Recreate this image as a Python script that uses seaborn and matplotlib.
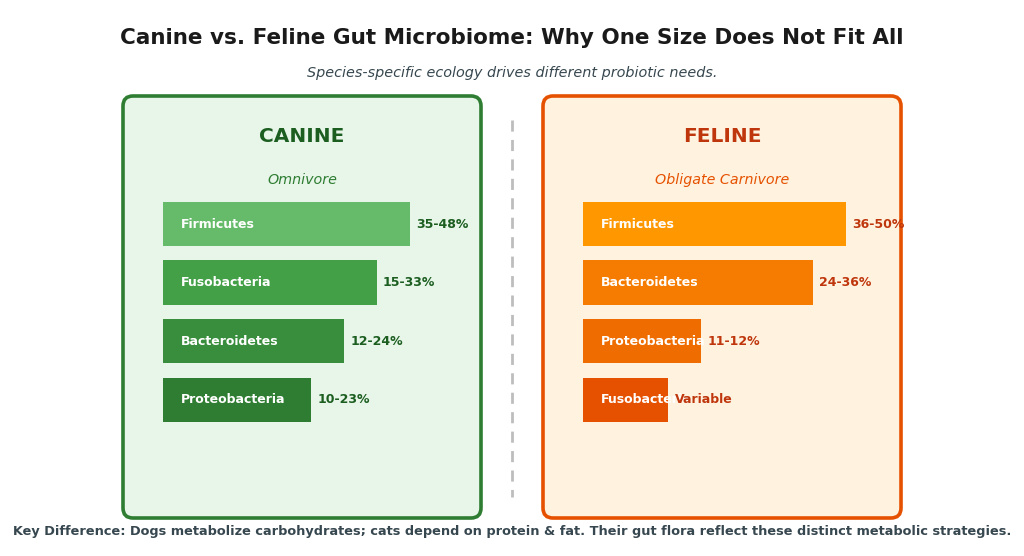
import numpy as np
import pandas as pd
import seaborn as sns
import matplotlib.pyplot as plt
from matplotlib.patches import FancyBboxPatch

# data
canine_taxa = ['Firmicutes', 'Fusobacteria', 'Bacteroidetes', 'Proteobacteria']
canine_size = [75, 65, 55, 45]
canine_range = ['35-48%', '15-33%', '12-24%', '10-23%']
canine_colors = ['#66bb6a', '#43a047', '#388e3c', '#2e7d32']

feline_taxa = ['Firmicutes', 'Bacteroidetes', 'Proteobacteria', 'Fusobacteria']
feline_size = [80, 70, 36, 26]
feline_range = ['36-50%', '24-36%', '11-12%', 'Variable']
feline_colors = ['#ff9800', '#f57c00', '#ef6c00', '#e65100']

sns.set_theme(style='white')
plt.rcParams['font.family'] = ['DejaVu Sans']

W, H = 1024, 556
fig = plt.figure(figsize=(W / 100, H / 100), dpi=100)

# background axes in pixel units
bg = fig.add_axes([0, 0, 1, 1])
bg.set_xlim(0, W)
bg.set_ylim(H, 0)
bg.axis('off')


def panel(x0, x1, face, edge, title, title_col, sub, sub_col):
    box = FancyBboxPatch((x0, 96), x1 - x0, 422, boxstyle='round,pad=0,rounding_size=10',
                         facecolor=face, edgecolor=edge, linewidth=2.6)
    bg.add_patch(box)
    cx = (x0 + x1) / 2
    bg.text(cx, 136, title, ha='center', va='center', fontsize=14.5, fontweight='bold', color=title_col)
    bg.text(cx, 180, sub, ha='center', va='center', fontsize=10.3, fontstyle='italic', color=sub_col)


panel(123, 481, '#e8f5e9', '#2e7d32', 'CANINE', '#1b5e20', 'Omnivore', '#2e7d32')
panel(543, 901, '#fff3e0', '#e65100', 'FELINE', '#bf360c', 'Obligate Carnivore', '#e65100')

bg.plot([512, 512], [120, 497], color='#bdbdbd', linewidth=2, linestyle=(0, (4, 3)))

bg.text(512, 38, 'Canine vs. Feline Gut Microbiome: Why One Size Does Not Fit All',
        ha='center', va='center', fontsize=15.5, fontweight='bold', color='#1a1a1a')
bg.text(512, 73, 'Species-specific ecology drives different probiotic needs.',
        ha='center', va='center', fontsize=10.4, fontstyle='italic', color='#37474f')
bg.text(512, 531, 'Key Difference: Dogs metabolize carbohydrates; cats depend on protein & fat. '
        'Their gut flora reflect these distinct metabolic strategies.',
        ha='center', va='center', fontsize=9.3, fontweight='bold', color='#37474f')

PX_PER_UNIT = 3.288
STEP = 58.6


def bars(left_px, taxa, size, rng, colors, val_col):
    top_px = 224 - STEP / 2
    h_px = 4 * STEP
    w_px = 100 * PX_PER_UNIT
    ax = fig.add_axes([left_px / W, 1 - (top_px + h_px) / H, w_px / W, h_px / H])
    df = pd.DataFrame({'taxon': taxa, 'size': size})
    sns.barplot(data=df, x='size', y='taxon', hue='taxon', palette=colors, legend=False,
                orient='h', width=44.3 / STEP, ax=ax, saturation=1, edgecolor='none')
    ax.set_xlim(0, 100)
    ax.set_ylim(3.5, -0.5)
    ax.axis('off')
    ax.patch.set_alpha(0)
    for i, (t, s, r) in enumerate(zip(taxa, size, rng)):
        ax.text(5.5, i, t, ha='left', va='center', fontsize=9, fontweight='bold', color='white')
        ax.text(s + 1.9, i, r, ha='left', va='center', fontsize=9, fontweight='bold',
                color=val_col, clip_on=False)


bars(163, canine_taxa, canine_size, canine_range, canine_colors, '#1b5e20')
bars(583, feline_taxa, feline_size, feline_range, feline_colors, '#bf360c')

fig.savefig('out.png', dpi=100)
